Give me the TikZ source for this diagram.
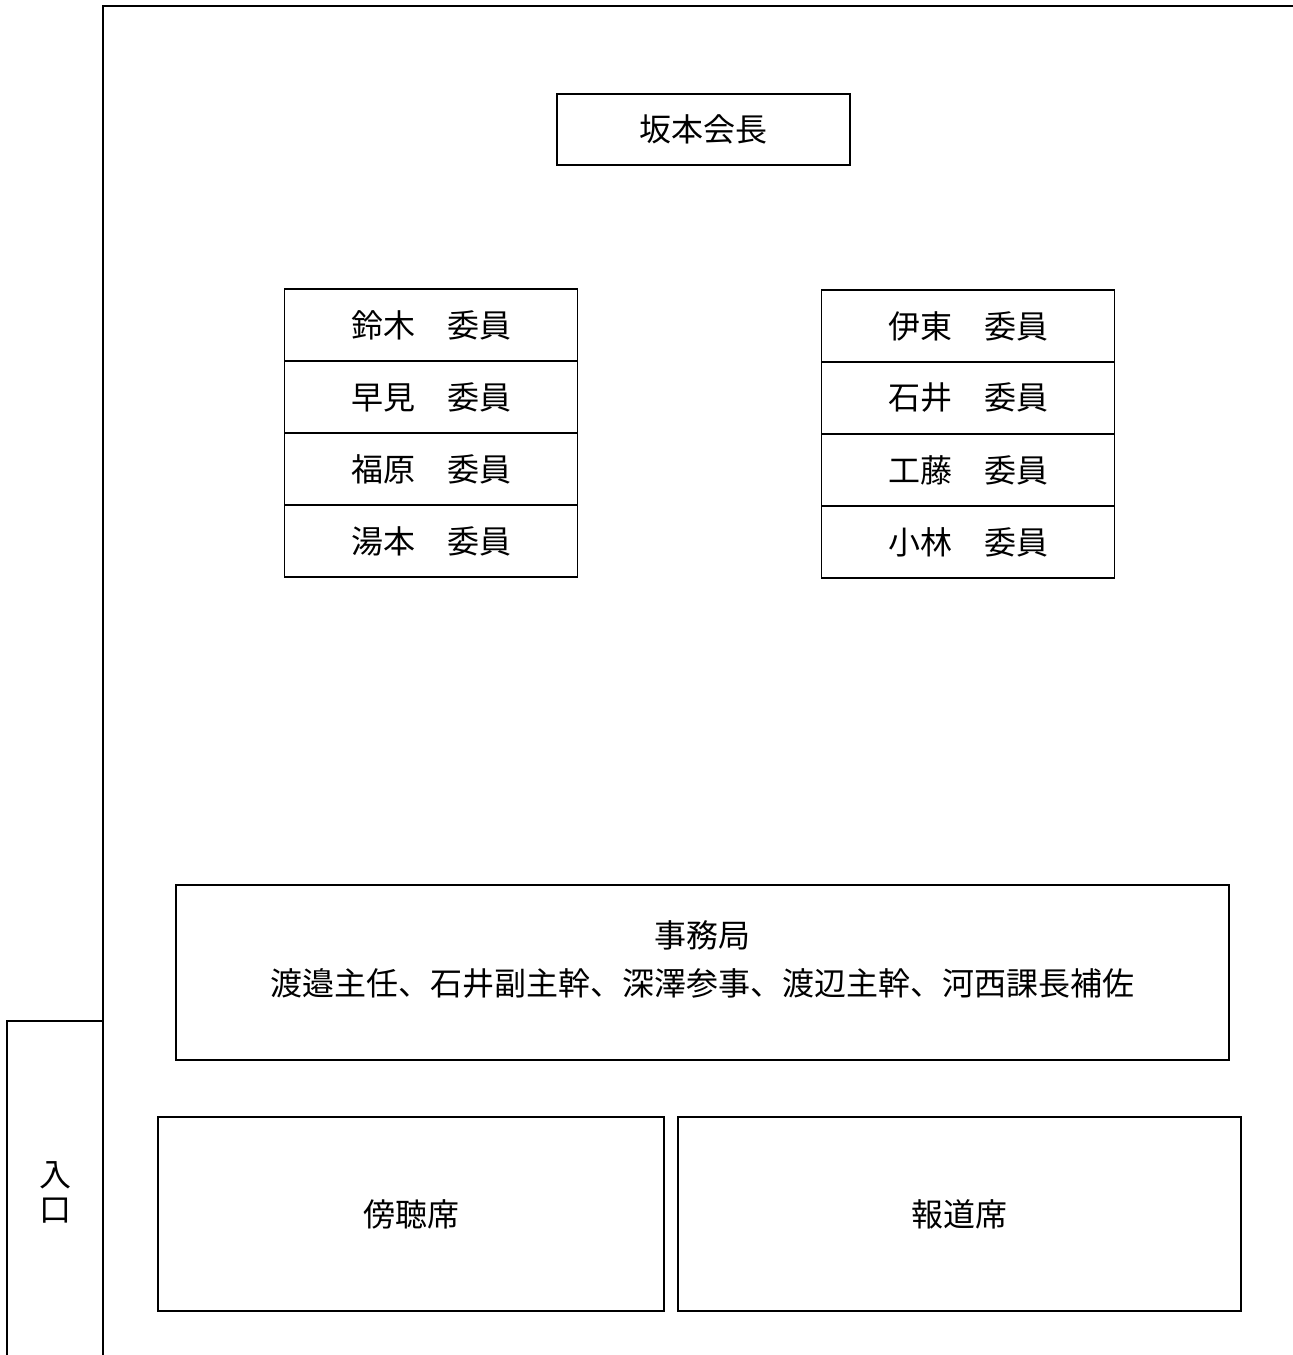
\documentclass[tikz,border=0pt]{standalone}
\usepackage{fontspec}
\setmainfont{Noto Sans CJK JP}
\usetikzlibrary{positioning}
\tikzset{
  seat/.style={draw, line width=1.6pt, minimum width=293pt, minimum height=72pt, inner sep=0pt, outer sep=0pt},
  area/.style={draw, line width=1.8pt, inner sep=0pt, outer sep=0pt},
  wall/.style={line width=1.4pt},
}
\begin{document}
\begin{tikzpicture}[x=1pt, y=-1pt, font=\fontsize{32}{40}\selectfont]
	\useasboundingbox (0,0) rectangle (1293,1355);
	% room walls and entrance
	\draw[wall] (103,1355) -- (103,6) -- (1293,6);
	\draw[wall] (103,1021) -- (7,1021) -- (7,1355);
	\node[align=center, font=\fontsize{32}{35}\selectfont] (entrance) at (55,1192) {入\\口};
	% chairman
	\node[seat, minimum height=71pt] (chair) at (703.5,129.5) {坂本会長};
	% left members
	\node[seat] (suzuki) at (431,325) {鈴木　委員};
	\node[seat, below=0pt of suzuki] (hayami) {早見　委員};
	\node[seat, below=0pt of hayami] (fukuhara) {福原　委員};
	\node[seat, below=0pt of fukuhara] (yumoto) {湯本　委員};
	% right members
	\node[seat] (ito) at (968,326) {伊東　委員};
	\node[seat, below=0pt of ito] (ishii) {石井　委員};
	\node[seat, below=0pt of ishii] (kudo) {工藤　委員};
	\node[seat, below=0pt of kudo] (kobayashi) {小林　委員};
	% secretariat
	\node[area, minimum width=1053pt, minimum height=175pt] (office) at (702.5,972.5) {};
	\node[align=center, font=\fontsize{32}{48}\selectfont] (staff) at (702.5,959) {事務局\\渡邉主任、石井副主幹、深澤参事、渡辺主幹、河西課長補佐};
	% public and press
	\node[area, minimum width=506pt, minimum height=194pt] (public) at (411,1214) {傍聴席};
	\node[area, minimum width=563pt, minimum height=194pt] (press) at (959.5,1214) {報道席};
\end{tikzpicture}
\end{document}
